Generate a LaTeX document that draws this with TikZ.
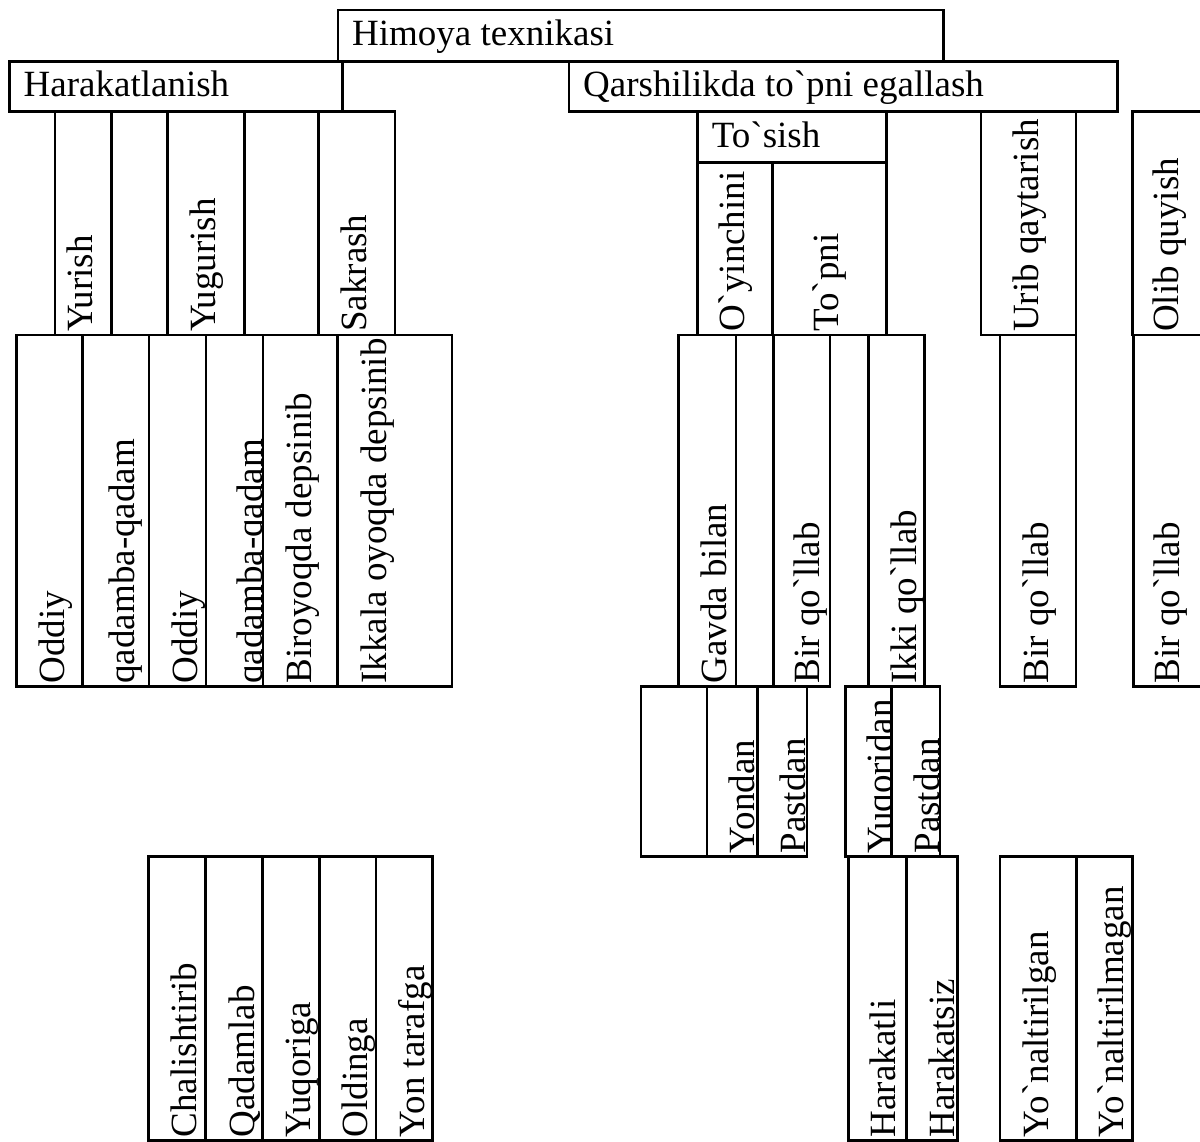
\documentclass[tikz,border=0pt]{standalone}
\usepackage{fontspec}
\setmainfont{Liberation Serif}

\newcommand{\gv}{\textasciigrave}

\begin{document}
\begin{tikzpicture}[
        x=1pt, y=-1pt,
        font=\fontsize{37}{40}\selectfont,
        cell/.style={rectangle, draw, line width=2.8pt, fill=white,
                     inner sep=0pt, outer sep=0pt, anchor=north west},
        htext/.style={anchor=base west, inner sep=0pt},
        vtext/.style={anchor=base west, rotate=90, inner sep=0pt},
      ]
        \useasboundingbox (0,0) rectangle (1200,1142);
        \clip (0,0) rectangle (1200,1142);
        \fill[white] (0,0) rectangle (1200,1142);

        % flat headings
        \foreach \nm/\xa/\ya/\xb/\yb/\txt in {
          hm/338/10/943.3/61.5/Himoya texnikasi,
          hr/9.5/61.5/342.7/111.7/Harakatlanish,
          qr/569/61.5/1117.7/111.7/Qarshilikda to\gv{}pni egallash,
          ts/697.7/111.7/886.7/162.3/To\gv{}sish} {
          \node[cell, minimum width={\xb-\xa}, minimum height={\yb-\ya}]
            (\nm) at (\xa,\ya) {};
          \node[htext] (\nm-t) at ([xshift=14pt, yshift=-35.5pt]\nm.north west) {\txt};
        }

        % upright columns, text read from the bottom
        \foreach \nm/\xa/\ya/\xb/\yb/\dd/\txt in {
          yr/55/111.7/111.7/335/37/Yurish,
          yg/167.7/111.7/244.3/335/47.5/Yugurish,
          sk/318.3/111.7/395/335/48.5/Sakrash,
          oy/697.7/162.3/772.7/335/47/O\gv{}yinchini,
          tp/772.7/162.3/886.7/335/65.5/To\gv{}pni,
          uq/981/111.7/1076/335/57.5/Urib qaytarish,
          oq/1132.7/111.7/1215/335/46/Olib quyish,
          od1/16.7/335/82.7/686.7/48/Oddiy,
          qq1/82.7/335/149/686.7/52/qadamba-qadam,
          od2/149/335/206/686.7/48/Oddiy,
          qq2/206/335/263/686.7/56/qadamba-qadam,
          bd/263/335/337.7/686.7/48.5/Biroyoqda depsinib,
          id/337.7/335/452/686.7/49/Ikkala oyoqda depsinib,
          gb/678.3/335/736/686.7/48.5/Gavda bilan,
          bq1/773.3/335/830/686.7/46.5/Bir qo\gv{}llab,
          iq/868.3/335/924.3/686.7/48/Ikki qo\gv{}llab,
          bq2/1000/335/1076/686.7/48.5/Bir qo\gv{}llab,
          bq3/1133.3/335/1215/686.7/46.5/Bir qo\gv{}llab,
          yn/707/686.7/757.2/856.7/47.5/Yondan,
          pd1/757.2/686.7/807/856.7/48.5/Pastdan,
          yq/845.2/686.7/891.7/856.7/47.5/Yuqoridan,
          pd2/891.7/686.7/940/856.7/48/Pastdan,
          ch/148.3/856.7/205.7/1140.5/48/Chalishtirib,
          qd/205.7/856.7/262.7/1140.5/49/Qadamlab,
          yu/262.7/856.7/319.3/1140.5/48/Yuqoriga,
          ol/319.3/856.7/376/1140.5/48/Oldinga,
          yt/376/856.7/432.7/1140.5/48.5/Yon tarafga,
          hk/848.8/856.7/906.3/1140.5/47/Harakatli,
          hs/906.3/856.7/957.2/1140.5/48/Harakatsiz,
          yl/1000/856.7/1076.4/1140.5/48.5/Yo\gv{}naltirilgan,
          ym/1076.4/856.7/1132.7/1140.5/47/Yo\gv{}naltirilmagan} {
          \node[cell, minimum width={\xb-\xa}, minimum height={\yb-\ya}]
            (\nm) at (\xa,\ya) {};
          \node[vtext] (\nm-t) at ([xshift={\dd*1pt}, yshift=3pt]\nm.south west) {\txt};
        }

        % blank cell beside Yondan
        \node[cell, minimum width=66.1pt, minimum height=170pt] (bl) at (640.9,686.7) {};
      \end{tikzpicture}
\end{document}
